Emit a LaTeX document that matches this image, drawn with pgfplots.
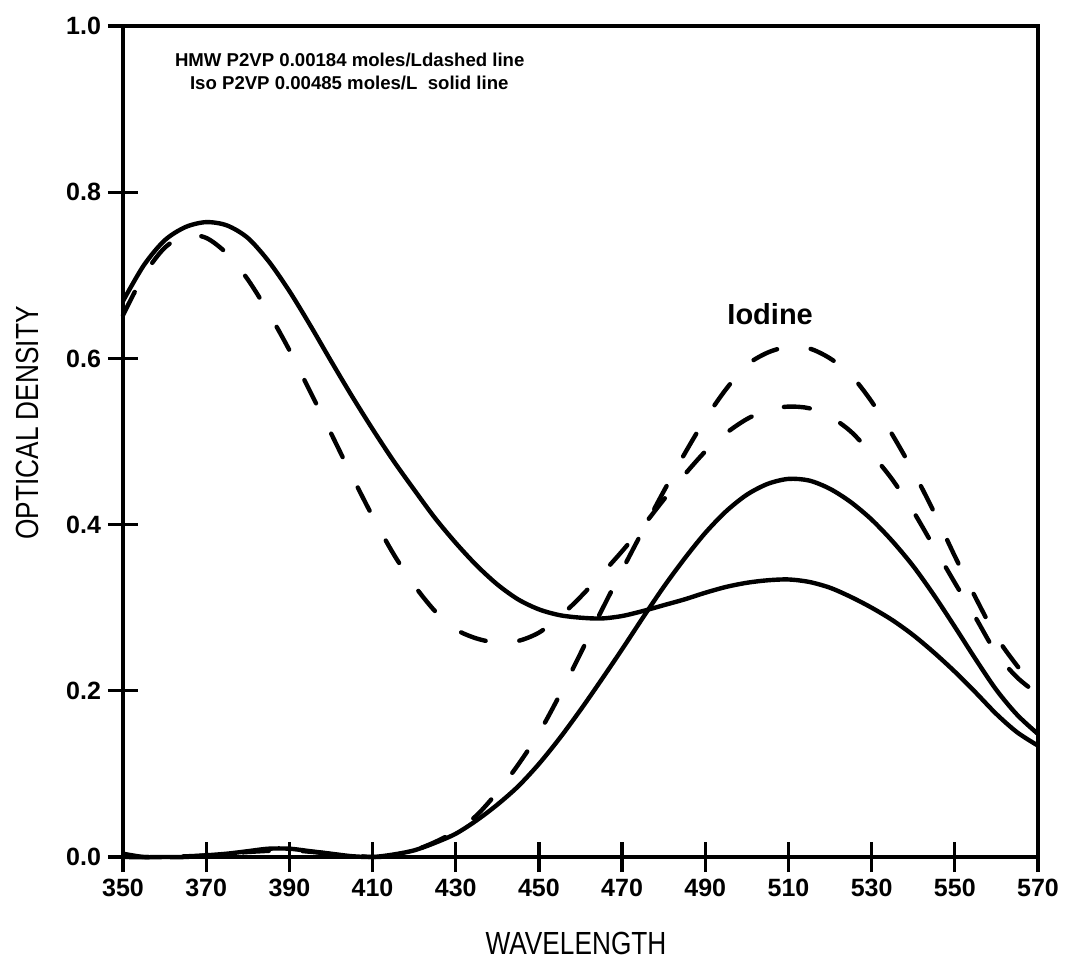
\documentclass[border=0pt]{standalone}
\usepackage{fontspec}
\setmainfont{Liberation Sans}
\newfontfamily\condfont[FakeStretch=0.82]{Liberation Sans}
\usepackage{pgfplots}
\pgfplotsset{compat=1.18}

% Iso P2VP + iodine (solid), polymer band
\pgfplotstableread{
x y
350 0.669
355 0.712
360 0.742
365 0.758
370 0.764
375 0.760
380 0.745
385 0.717
390 0.681
395 0.640
400 0.597
405 0.555
410 0.515
415 0.477
420 0.442
425 0.408
430 0.378
435 0.351
440 0.328
445 0.310
450 0.298
455 0.291
460 0.288
465 0.287
470 0.290
475 0.296
480 0.303
485 0.310
490 0.318
495 0.325
500 0.330
505 0.333
510 0.334
515 0.331
520 0.324
525 0.313
530 0.300
535 0.285
540 0.267
545 0.246
550 0.223
555 0.198
560 0.172
565 0.150
570 0.134
}\isosolid

% iodine, solid
\pgfplotstableread{
x y
350 0.004
355 0.000
360 0.000
365 0.000
370 0.002
375 0.004
380 0.007
385 0.010
390 0.010
395 0.007
400 0.004
405 0.001
410 0.000
415 0.003
420 0.008
425 0.017
430 0.028
435 0.044
440 0.063
445 0.085
450 0.112
455 0.143
460 0.177
465 0.213
470 0.250
475 0.288
480 0.325
485 0.359
490 0.390
495 0.416
500 0.436
505 0.449
510 0.455
515 0.453
520 0.443
525 0.427
530 0.406
535 0.380
540 0.350
545 0.315
550 0.277
555 0.238
560 0.201
565 0.171
570 0.148
}\iodsolid

% HMW P2VP + iodine (dashed), polymer band
\pgfplotstableread{
x y
350 0.652
355 0.700
360 0.733
365 0.748
370 0.745
375 0.726
380 0.695
385 0.655
390 0.610
395 0.560
400 0.510
405 0.459
410 0.410
415 0.365
420 0.327
425 0.296
430 0.274
435 0.263
440 0.258
445 0.260
450 0.270
455 0.289
460 0.313
465 0.340
470 0.368
475 0.398
480 0.430
485 0.460
490 0.488
495 0.510
500 0.527
505 0.538
510 0.542
515 0.540
520 0.530
525 0.512
530 0.485
535 0.454
540 0.416
545 0.373
550 0.330
555 0.288
560 0.245
565 0.216
570 0.196
}\hmwdash

% iodine, dashed
\pgfplotstableread{
x y
350 0.000
360 0.000
370 0.002
380 0.006
390 0.008
400 0.004
410 0.000
415 0.002
420 0.008
425 0.018
430 0.031
435 0.050
440 0.078
445 0.111
450 0.149
455 0.195
460 0.245
465 0.296
470 0.345
475 0.393
480 0.440
485 0.485
490 0.527
495 0.563
500 0.592
505 0.607
510 0.614
515 0.612
520 0.600
525 0.580
530 0.548
535 0.508
540 0.464
545 0.415
550 0.362
555 0.312
560 0.265
565 0.230
570 0.200
}\ioddash

\begin{document}
\begin{tikzpicture}
\begin{axis}[
    name=ax,
    scale only axis,
    width=457.5pt,
    height=415.5pt,
    xmin=350, xmax=570,
    ymin=0, ymax=1,
    xtick={350,370,...,570},
    ytick={0,0.2,0.4,0.6,0.8,1.0},
    tick pos=left,
    tick align=center,
    major tick length=15pt,
    axis line style={line width=1.6pt},
    every tick/.style={line width=1.6pt, black},
    tick label style={font=\bfseries\fontsize{12.5}{14}\selectfont},
    /pgf/number format/assume math mode=true,
    yticklabel style={/pgf/number format/.cd, fixed, fixed zerofill, precision=1},
    xticklabel style={/pgf/number format/1000 sep={}},
    clip=false,
]
\addplot[black, line width=2.2pt, smooth] table {\isosolid};
\addplot[black, line width=2.2pt, smooth] table {\iodsolid};
\addplot[black, line width=2.2pt, smooth, line cap=round, dash pattern=on 13pt off 17pt] table {\hmwdash};
\addplot[black, line width=2.2pt, smooth, line cap=round, dash pattern=on 13pt off 17pt] table {\ioddash};
\node[font=\bfseries\fontsize{14.5}{17}\selectfont] at (axis cs:505.6,0.653) {Iodine};
\end{axis}
\node[anchor=west, font=\bfseries\fontsize{9.3}{11}\selectfont] at ([shift={(22.5pt,-17pt)}]ax.north west) {HMW P2VP 0.00184 moles/Ldashed line};
\node[anchor=west, font=\bfseries\fontsize{9.3}{11}\selectfont] at ([shift={(30pt,-28.5pt)}]ax.north west) {Iso P2VP 0.00485 moles/L\ \ solid line};
\node[rotate=90, font=\condfont\fontsize{16}{19}\selectfont] at ([shift={(-48pt,217pt)}]ax.south west) {OPTICAL DENSITY};
\node[font=\condfont\fontsize{16}{19}\selectfont] at ([shift={(226.5pt,-43pt)}]ax.south west) {WAVELENGTH};
\pgfresetboundingbox
\path[use as bounding box] ([shift={(-61.5pt,-54.5pt)}]ax.south west) rectangle ([shift={(13.5pt,13pt)}]ax.north east);
\end{tikzpicture}
\end{document}
